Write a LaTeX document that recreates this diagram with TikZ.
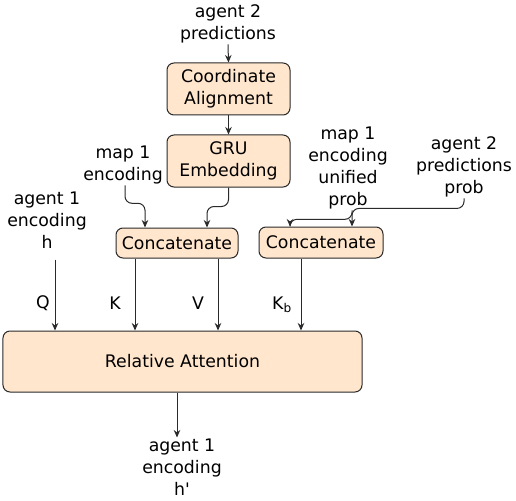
\documentclass[tikz,border=0pt]{standalone}
\usepackage{fontspec}
\setmainfont{DejaVu Sans}[Ligatures=TeXOff]
\usetikzlibrary{arrows.meta}
\definecolor{boxfill}{HTML}{FFE6CC}
\definecolor{linec}{HTML}{2A2A2A}
\begin{document}
\begin{tikzpicture}[x=1bp,y=-1bp,
  every node/.style={font=\fontsize{17.3bp}{22bp}\selectfont, text=black},
  box/.style={draw=linec, fill=boxfill, rounded corners=7bp, line width=1bp, inner sep=0pt, align=center},
  lbl/.style={align=center, inner sep=1bp},
  arr/.style={draw=linec, line width=1bp, -{Stealth[length=7.5bp,width=6.5bp]}},
  link/.style={draw=linec, line width=1bp, rounded corners=7bp, -{Stealth[length=7.5bp,width=6.5bp]}}
]
\useasboundingbox[fill=white] (0,0) rectangle (516,501);

% boxes
\node[box, minimum width=123bp, minimum height=52bp] (ca) at (228.5,89) {Coordinate\\Alignment};
\node[box, minimum width=123bp, minimum height=52bp] (gru) at (228.5,161) {GRU\\Embedding};
\node[box, minimum width=122bp, minimum height=30bp] (cat1) at (177,243) {Concatenate};
\node[box, minimum width=124bp, minimum height=31bp] (cat2) at (321,242.5) {Concatenate};
\node[box, minimum width=359bp, minimum height=61bp] (ra) at (182.5,361.5) {Relative Attention};

% texts
\node[lbl] (a2p) at (228,24) {agent 2\\predictions};
\node[lbl] (m1) at (123,165) {map 1\\encoding};
\node[lbl] (a1) at (47,220) {agent 1\\encoding\\h};
\node[lbl] (m1u) at (348,168) {map 1\\encoding\\unified\\prob};
\node[lbl] (a2pp) at (464,167) {agent 2\\predictions\\prob};
\node[lbl] (out) at (182,467) {agent 1\\encoding\\h'};

\node[lbl] (q) at (43,303) {Q};
\node[lbl] (k) at (115,303) {K};
\node[lbl] (v) at (198,303) {V};
\node[lbl] (kb) at (282,305) {K\textsubscript{b}};

% connectors
\coordinate (qs) at ([xshift=8bp,yshift=-10bp]a1.south);
\draw[arr] (a2p.south) -- (ca.north);
\draw[arr] (ca.south) -- (gru.north);
\draw[link] ([xshift=2bp]m1.south) -- ++(0,18) -| ([xshift=-32bp]cat1.north);
\draw[link] (gru.south) -- ++(0,19) -| ([xshift=30bp]cat1.north);
\draw[link] ([xshift=4bp]m1u.south) -- ++(0,9) -| ([xshift=-31bp]cat2.north);
\draw[link] (a2pp.south) -- ++(0,10) -| ([xshift=31bp]cat2.north);

\draw[arr] (qs) -- (qs |- ra.north);
\draw[arr] ([xshift=-42bp]cat1.south) -- ([xshift=-42bp]cat1.south |- ra.north);
\draw[arr] ([xshift=41bp]cat1.south) -- ([xshift=41bp]cat1.south |- ra.north);
\draw[arr] ([xshift=-20bp]cat2.south) -- ([xshift=-20bp]cat2.south |- ra.north);
\draw[arr] ([xshift=-5.5bp]ra.south) -- ([xshift=-5.5bp]ra.south |- out.north);
\end{tikzpicture}
\end{document}
